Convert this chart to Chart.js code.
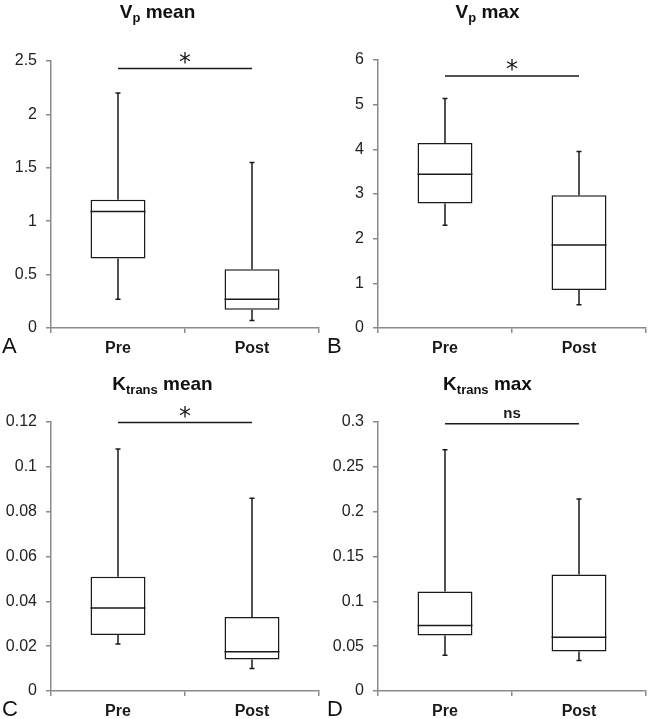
<!DOCTYPE html>
<html>
<head>
<meta charset="utf-8">
<script src="https://cdn.jsdelivr.net/npm/chart.js@4"></script>
<style>
  html, body { margin: 0; padding: 0; background: #fff; overflow: hidden; }
  body { width: 650px; height: 719px; position: relative; font-family: "Liberation Sans", Arial, sans-serif; }
  .panel { position: absolute; width: 325px; height: 360px; }
  .panel canvas { position: absolute; left: 0; top: 0; }
  .title { position: absolute; left: 0; width: 325px; text-align: center; font-weight: bold; font-size: 19px; color: #111; }
  .title sub { font-size: 13px; vertical-align: -4px; line-height: 0; }
  .letter { position: absolute; left: 2px; font-size: 22px; color: #111; }
</style>
</head>
<body>

<div class="panel" style="left:0;top:0">
  <canvas id="chartA" width="325" height="360"></canvas>
  <div class="title" style="top:1px;left:-5px">V<sub>p</sub> mean</div>
  <div class="letter" style="top:333px">A</div>
</div>
<div class="panel" style="left:325px;top:0">
  <canvas id="chartB" width="325" height="360"></canvas>
  <div class="title" style="top:1px">V<sub>p</sub> max</div>
  <div class="letter" style="top:333px">B</div>
</div>
<div class="panel" style="left:0;top:360px">
  <canvas id="chartC" width="325" height="360"></canvas>
  <div class="title" style="top:13px">K<sub>trans</sub> mean</div>
  <div class="letter" style="top:336px">C</div>
</div>
<div class="panel" style="left:325px;top:360px">
  <canvas id="chartD" width="325" height="360"></canvas>
  <div class="title" style="top:13px">K<sub>trans</sub> max</div>
  <div class="letter" style="top:336px">D</div>
</div>

<script>
const categories = ['Pre', 'Post'];

// Vp mean
const vpMeanMin = [0.27, 0.07];
const vpMeanQ1  = [0.65, 0.17];
const vpMeanMed = [1.09, 0.27];
const vpMeanQ3  = [1.20, 0.55];
const vpMeanMax = [2.20, 1.55];
const vpMeanTicks = [0, 0.5, 1, 1.5, 2, 2.5];

// Vp max
const vpMaxMin = [2.30, 0.52];
const vpMaxQ1  = [2.79, 0.85];
const vpMaxMed = [3.44, 1.86];
const vpMaxQ3  = [4.14, 2.97];
const vpMaxMax = [5.14, 3.95];
const vpMaxTicks = [0, 1, 2, 3, 4, 5, 6];

// Ktrans mean
const ktMeanMin = [0.021, 0.010];
const ktMeanQ1  = [0.025, 0.014];
const ktMeanMed = [0.037, 0.0175];
const ktMeanQ3  = [0.051, 0.033];
const ktMeanMax = [0.108, 0.086];
const ktMeanTicks = [0, 0.02, 0.04, 0.06, 0.08, 0.1, 0.12];

// Ktrans max
const ktMaxMin = [0.040, 0.034];
const ktMaxQ1  = [0.062, 0.044];
const ktMaxMed = [0.073, 0.060];
const ktMaxQ3  = [0.111, 0.130];
const ktMaxMax = [0.269, 0.214];
const ktMaxTicks = [0, 0.05, 0.1, 0.15, 0.2, 0.25, 0.3];

// significance bars
const sigLevels = [2.43, 5.64, 0.1198, 0.298];
const sigLabels = ['*', '*', '*', 'ns'];

const ink = '#1a1a1a';
const axisGrey = '#8a8a8a';

// whiskers, medians and the significance bar
const boxExtras = {
    id: 'boxExtras',
    afterDatasetsDraw(chart, args, opts) {
        const ctx = chart.ctx;
        const x = chart.scales.x, y = chart.scales.y;
        const meta = chart.getDatasetMeta(0);
        ctx.save();
        ctx.strokeStyle = ink;
        ctx.lineWidth = 1.5;
        meta.data.forEach((bar, i) => {
            const cx = x.getPixelForValue(i);
            const half = bar.width / 2;
            const yMin = y.getPixelForValue(opts.min[i]);
            const yMax = y.getPixelForValue(opts.max[i]);
            const yQ1 = y.getPixelForValue(opts.q1[i]);
            const yQ3 = y.getPixelForValue(opts.q3[i]);
            const yMed = y.getPixelForValue(opts.med[i]);
            ctx.beginPath();
            ctx.moveTo(cx, yQ3); ctx.lineTo(cx, yMax);
            ctx.moveTo(cx - 2.5, yMax); ctx.lineTo(cx + 2.5, yMax);
            ctx.moveTo(cx, yQ1); ctx.lineTo(cx, yMin);
            ctx.moveTo(cx - 2.5, yMin); ctx.lineTo(cx + 2.5, yMin);
            ctx.moveTo(cx - half, yMed); ctx.lineTo(cx + half, yMed);
            ctx.stroke();
        });
        const x0 = x.getPixelForValue(0), x1 = x.getPixelForValue(1);
        const ys = y.getPixelForValue(opts.sig);
        ctx.beginPath();
        ctx.moveTo(x0, ys); ctx.lineTo(x1, ys);
        ctx.stroke();
        ctx.fillStyle = ink;
        ctx.textAlign = 'center';
        ctx.textBaseline = 'bottom';
        if (opts.sigText === 'ns') {
            ctx.font = 'bold 15px "Liberation Sans", Arial';
            ctx.fillText(opts.sigText, (x0 + x1) / 2, ys - 2);
        } else {
            ctx.font = '24px "DejaVu Sans", Arial';
            ctx.fillText(opts.sigText, (x0 + x1) / 2, ys + 7);
        }
        ctx.restore();
    }
};

function makeBox(id, q1, q3, med, mn, mx, ticks, sig, sigText, yWidth, top, xHeight, right) {
    new Chart(document.getElementById(id), {
        type: 'bar',
        data: {
            labels: categories,
            datasets: [{
                data: q1.map((v, i) => [v, q3[i]]),
                backgroundColor: '#ffffff',
                borderColor: ink,
                borderWidth: 1.5,
                borderSkipped: false,
                barPercentage: 0.41,
                categoryPercentage: 1
            }]
        },
        options: {
            responsive: false,
            animation: false,
            layout: { padding: { top: top, right: right, left: 0, bottom: 0 } },
            plugins: {
                legend: { display: false },
                tooltip: { enabled: false },
                boxExtras: { q1: q1, q3: q3, med: med, min: mn, max: mx, sig: sig, sigText: sigText }
            },
            scales: {
                x: {
                    afterFit: s => { s.height = xHeight; },
                    border: { color: axisGrey, width: 1.5 },
                    grid: { offset: true, drawOnChartArea: false, color: axisGrey, tickLength: 5, lineWidth: 1.5 },
                    ticks: { color: ink, padding: 6, font: { family: '"Liberation Sans", Arial', size: 16, weight: 'bold' } }
                },
                y: {
                    min: ticks[0],
                    max: ticks[ticks.length - 1],
                    afterFit: s => { s.width = yWidth; },
                    afterBuildTicks: s => { s.ticks = ticks.map(v => ({ value: v })); },
                    border: { color: axisGrey, width: 1.5 },
                    grid: { drawOnChartArea: false, color: axisGrey, tickLength: 5, lineWidth: 1.5 },
                    ticks: {
                        color: '#222',
                        padding: 9,
                        font: { family: '"Liberation Sans", Arial', size: 16 },
                        callback: v => String(v)
                    }
                }
            }
        },
        plugins: [boxExtras]
    });
}

makeBox('chartA', vpMeanQ1, vpMeanQ3, vpMeanMed, vpMeanMin, vpMeanMax, vpMeanTicks, sigLevels[0], sigLabels[0], 51, 61, 32, 6);
makeBox('chartB', vpMaxQ1, vpMaxQ3, vpMaxMed, vpMaxMin, vpMaxMax, vpMaxTicks, sigLevels[1], sigLabels[1], 53, 60, 32, 4);
makeBox('chartC', ktMeanQ1, ktMeanQ3, ktMeanMed, ktMeanMin, ktMeanMax, ktMeanTicks, sigLevels[2], sigLabels[2], 51, 62, 29, 6);
makeBox('chartD', ktMaxQ1, ktMaxQ3, ktMaxMed, ktMaxMin, ktMaxMax, ktMaxTicks, sigLevels[3], sigLabels[3], 53, 62, 29, 4);
</script>
</body>
</html>
